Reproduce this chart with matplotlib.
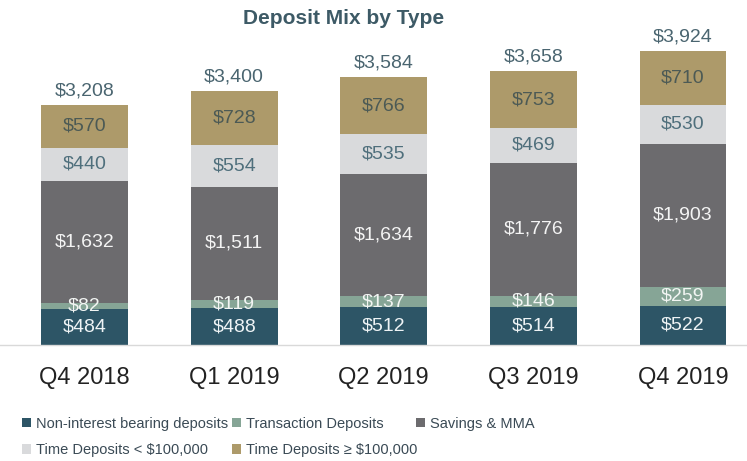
import matplotlib
matplotlib.use("Agg")
import matplotlib.pyplot as plt
from matplotlib.patches import Patch
from matplotlib import font_manager
import numpy as np

categories = ["Q4 2018", "Q1 2019", "Q2 2019", "Q3 2019", "Q4 2019"]
series_names = ["Non-interest bearing deposits", "Transaction Deposits", "Savings & MMA",
                "Time Deposits < $100,000", "Time Deposits \u2265 $100,000"]
non_interest = [484, 488, 512, 514, 522]
transaction = [82, 119, 137, 146, 259]
savings = [1632, 1511, 1634, 1776, 1903]
time_small = [440, 554, 535, 469, 530]
time_large = [570, 728, 766, 753, 710]
totals = [3208, 3400, 3584, 3658, 3924]

colors = ["#2d5566", "#86a596", "#6c6b6e", "#d9dadc", "#ad9a6a"]
label_colors = ["#eef3f5", "#f2f5f3", "#f4f4f4", "#4f6f7c", "#4c5a55"]

plt.rcParams['font.family'] = ['Liberation Sans', 'DejaVu Sans']

fig = plt.figure(figsize=(7.47, 4.61), dpi=100)
ax = fig.add_axes([0.0, 116 / 461, 1.0, (461 - 116 - 30) / 461])

x = np.arange(len(categories))
width = 0.58
bottom = np.zeros(len(categories))
all_series = [non_interest, transaction, savings, time_small, time_large]
for vals, col, lc in zip(all_series, colors, label_colors):
    vals = np.array(vals, dtype=float)
    ax.bar(x, vals, width, bottom=bottom, color=col, edgecolor='none')
    for xi, b, v in zip(x, bottom, vals):
        ax.text(xi, b + v / 2, f"${int(v):,}", ha='center', va='center',
                fontsize=14, color=lc)
    bottom += vals

for xi, t in zip(x, totals):
    ax.annotate(f"${t:,}", (xi, t), xytext=(0, 4), textcoords='offset points',
                ha='center', va='bottom', fontsize=14, color="#4a6570")

ax.set_xlim(-0.565, 4.428)
ax.set_ylim(0, 315 / 0.0748)
ax.set_xticks(x)
ax.set_xticklabels(categories, fontsize=17, color="#222222")
ax.tick_params(axis='x', length=0, pad=16)
ax.set_yticks([])
for s in ['top', 'right', 'left']:
    ax.spines[s].set_visible(False)
ax.spines['bottom'].set_color('#d9d9d9')
ax.spines['bottom'].set_linewidth(1)
ax.patch.set_alpha(0)

fig.text(0.46, 1 - 18 / 461, "Deposit Mix by Type", ha='center', va='center',
         fontsize=15, fontweight='bold', color="#3d5a66")

handles = [Patch(facecolor=c, edgecolor='none') for c in colors]
cols = [([0, 3], 16), ([1, 4], 226), ([2], 410)]
for idxs, xpx in cols:
    fig.legend([handles[i] for i in idxs], [series_names[i] for i in idxs],
               loc='upper left', bbox_to_anchor=(xpx / 747, 1 - 411 / 461),
               frameon=False, prop={'size': 10.5},
               handlelength=0.6, handleheight=0.6,
               handletextpad=0.35, labelspacing=0.85, borderaxespad=0,
               labelcolor="#3a4a55")

fig.savefig("out.png", dpi=100)
